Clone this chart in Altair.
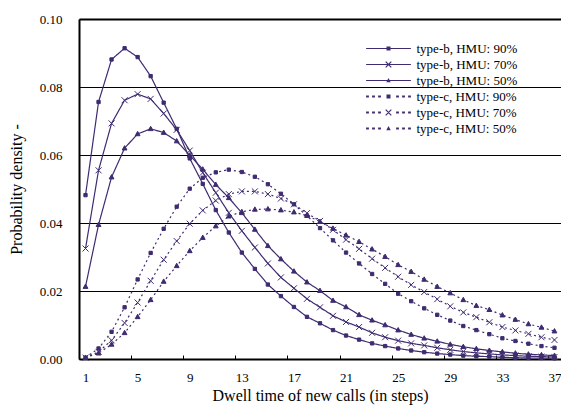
import altair as alt
import pandas as pd

steps = list(range(1, 38))

series_names = [
    "type-b, HMU: 90%", "type-b, HMU: 70%", "type-b, HMU: 50%",
    "type-c, HMU: 90%", "type-c, HMU: 70%", "type-c, HMU: 50%",
]

b90 = [0.0482, 0.0756, 0.0881, 0.0914, 0.0888, 0.0832, 0.0754, 0.0677, 0.0590, 0.0515,
       0.0438, 0.0372, 0.0313, 0.0265, 0.0219, 0.0185, 0.0153, 0.0124, 0.0105, 0.0085,
       0.0069, 0.0057, 0.0046, 0.0038, 0.0031, 0.0025, 0.0020, 0.0016, 0.0013, 0.0010,
       0.0008, 0.0007, 0.0005, 0.0004, 0.0003, 0.0003, 0.0002]
b70 = [0.0325, 0.0555, 0.0693, 0.0761, 0.0779, 0.0765, 0.0722, 0.0674, 0.0613, 0.0548,
       0.0489, 0.0430, 0.0377, 0.0328, 0.0281, 0.0240, 0.0208, 0.0177, 0.0152, 0.0127,
       0.0109, 0.0094, 0.0077, 0.0064, 0.0054, 0.0046, 0.0040, 0.0033, 0.0027, 0.0022,
       0.0018, 0.0015, 0.0012, 0.0010, 0.0008, 0.0007, 0.0006]
b50 = [0.0213, 0.0395, 0.0535, 0.0620, 0.0662, 0.0677, 0.0666, 0.0641, 0.0599, 0.0558,
       0.0513, 0.0474, 0.0430, 0.0381, 0.0333, 0.0294, 0.0258, 0.0226, 0.0201, 0.0172,
       0.0153, 0.0130, 0.0114, 0.0100, 0.0085, 0.0072, 0.0061, 0.0052, 0.0043, 0.0036,
       0.0030, 0.0025, 0.0021, 0.0017, 0.0014, 0.0012, 0.0010]
c90 = [0.0004, 0.0031, 0.0080, 0.0152, 0.0234, 0.0312, 0.0383, 0.0448, 0.0501, 0.0533,
       0.0549, 0.0557, 0.0550, 0.0536, 0.0514, 0.0486, 0.0455, 0.0421, 0.0385, 0.0349,
       0.0313, 0.0281, 0.0250, 0.0221, 0.0192, 0.0170, 0.0149, 0.0130, 0.0113, 0.0097,
       0.0085, 0.0073, 0.0061, 0.0053, 0.0045, 0.0038, 0.0033]
c70 = [0.0004, 0.0021, 0.0055, 0.0106, 0.0166, 0.0230, 0.0292, 0.0347, 0.0398, 0.0437,
       0.0466, 0.0485, 0.0493, 0.0493, 0.0485, 0.0472, 0.0455, 0.0429, 0.0406, 0.0380,
       0.0351, 0.0324, 0.0295, 0.0268, 0.0242, 0.0218, 0.0197, 0.0176, 0.0155, 0.0137,
       0.0123, 0.0108, 0.0094, 0.0084, 0.0074, 0.0064, 0.0056]
c50 = [0.0004, 0.0017, 0.0043, 0.0077, 0.0124, 0.0174, 0.0228, 0.0274, 0.0318, 0.0357,
       0.0391, 0.0420, 0.0433, 0.0440, 0.0441, 0.0438, 0.0432, 0.0422, 0.0404, 0.0384,
       0.0364, 0.0345, 0.0323, 0.0301, 0.0277, 0.0257, 0.0234, 0.0213, 0.0194, 0.0174,
       0.0157, 0.0145, 0.0129, 0.0116, 0.0103, 0.0093, 0.0082]

y_ticks = [0.0, 0.02, 0.04, 0.06, 0.08, 0.10]

all_series = [b90, b70, b50, c90, c70, c50]
rows = []
for name, vals in zip(series_names, all_series):
    for k, v in zip(steps, vals):
        rows.append({"series": name, "step": k, "density": v})
df = pd.DataFrame(rows)

PURPLE = "#3f2b70"
FONT = "Liberation Serif"
W, H = 482, 340
STEP_PX = W / 37.0

# marker shapes for plot (unit paths)
SQ = "M-0.55,-0.55H0.55V0.55H-0.55Z"
XX = "M-1,-1L1,1M-1,1L1,-1"
TRI = "M0,-0.85L0.8,0.6H-0.8Z"
plot_shapes = [SQ, XX, TRI, SQ, XX, TRI]


# legend symbols drawn as filled outlines (4 px per unit at size 64)
def rect(x0, x1, h):
    return f"M{x0},{-h}H{x1}V{h}H{x0}Z"


def solid(marker):
    return rect(-5.6, 5.6, 0.15) + marker


def dotted(marker):
    segs = [(-5.6, -4.9), (-4.1, -3.4), (-2.6, -1.9), (1.9, 2.6), (3.4, 4.1), (4.9, 5.6)]
    return "".join(rect(a, b, 0.22) for a, b in segs) + marker


LSQ = "M-0.5,-0.5H0.5V0.5H-0.5Z"
LXX = ("M-0.594,-0.806L0.806,0.594L0.594,0.806L-0.806,-0.594Z"
       "M0.806,-0.594L-0.594,0.806L-0.806,0.594L0.594,-0.806Z")
LTRI = "M0,-0.6L0.55,0.45H-0.55Z"
legend_shapes = [solid(LSQ), solid(LXX), solid(LTRI), dotted(LSQ), dotted(LXX), dotted(LTRI)]

x_enc = alt.X(
    "step:Q",
    scale=alt.Scale(domain=[0.5, 37.5], nice=False, zero=False),
    axis=alt.Axis(
        values=[i + 0.5 for i in range(38)],
        labelExpr="(datum.value - 0.5) % 4 == 0 ? format(datum.value + 0.5, 'd') : ''",
        labelOffset=STEP_PX / 2,
        labelOverlap=False,
        labelFlush=False,
        labelFont=FONT,
        labelFontSize=13,
        labelColor="black",
        grid=False,
        domain=False,
        offset=-4,
        tickSize=4,
        tickColor="black",
        tickWidth=1,
        labelPadding=12,
        title="Dwell time of new calls (in steps)",
        titleFont=FONT,
        titleFontSize=16,
        titleFontWeight="normal",
        titleColor="black",
        titlePadding=3,
    ),
)
y_enc = alt.Y(
    "density:Q",
    scale=alt.Scale(domain=[0, 0.10], nice=False),
    axis=alt.Axis(
        values=y_ticks,
        format=".2f",
        grid=True,
        gridColor="black",
        gridWidth=alt.condition("datum.value == 0 || datum.value == 0.1", alt.value(2), alt.value(1)),
        tickSize=0,
        domainColor="black",
        domainWidth=2,
        labelFont=FONT,
        labelFontSize=13,
        labelColor="black",
        labelPadding=17,
        title="Probability density -",
        titleFont=FONT,
        titleFontSize=16,
        titleFontWeight="normal",
        titleColor="black",
        titlePadding=15,
    ),
)

lines = alt.Chart(df).mark_line(color=PURPLE).encode(
    x=x_enc,
    y=y_enc,
    detail="series:N",
    strokeDash=alt.StrokeDash(
        "series:N",
        scale=alt.Scale(domain=series_names, range=[[1, 0]] * 3 + [[2, 3]] * 3),
        legend=None,
    ),
    strokeWidth=alt.StrokeWidth(
        "series:N",
        scale=alt.Scale(domain=series_names, range=[1.2] * 3 + [2.0] * 3),
        legend=None,
    ),
)

points = alt.Chart(df).mark_point(
    filled=True, fill=PURPLE, stroke=PURPLE, strokeWidth=1, size=36, opacity=1
).encode(
    x="step:Q",
    y="density:Q",
    shape=alt.Shape(
        "series:N",
        scale=alt.Scale(domain=series_names, range=plot_shapes),
        legend=None,
    ),
)

legend_layer = alt.Chart(df).transform_filter("datum.step < 0").mark_point(
    filled=True, color=PURPLE, opacity=1
).encode(
    x="step:Q",
    y="density:Q",
    shape=alt.Shape(
        "series:N",
        scale=alt.Scale(domain=series_names, range=legend_shapes),
        legend=alt.Legend(
            title=None,
            orient="none",
            legendX=303,
            legendY=23,
            symbolSize=64,
            symbolFillColor=PURPLE,
            symbolOpacity=1,
            labelOffset=21.5,
            labelFont=FONT,
            labelFontSize=13,
            labelColor="black",
            rowPadding=2.0,
            padding=0,
        ),
    ),
)

chart = (
    alt.layer(lines, points, legend_layer)
    .resolve_scale(shape="independent")
    .properties(
        width=W,
        height=H,
        autosize=alt.AutoSizeParams(type="none"),
        padding={"left": 71, "top": 11, "right": 0, "bottom": 46},
        background="white",
    )
    .configure_view(stroke="#888888", strokeWidth=1)
)

chart.save("out.html", embed_options={"renderer": "svg", "actions": False})
